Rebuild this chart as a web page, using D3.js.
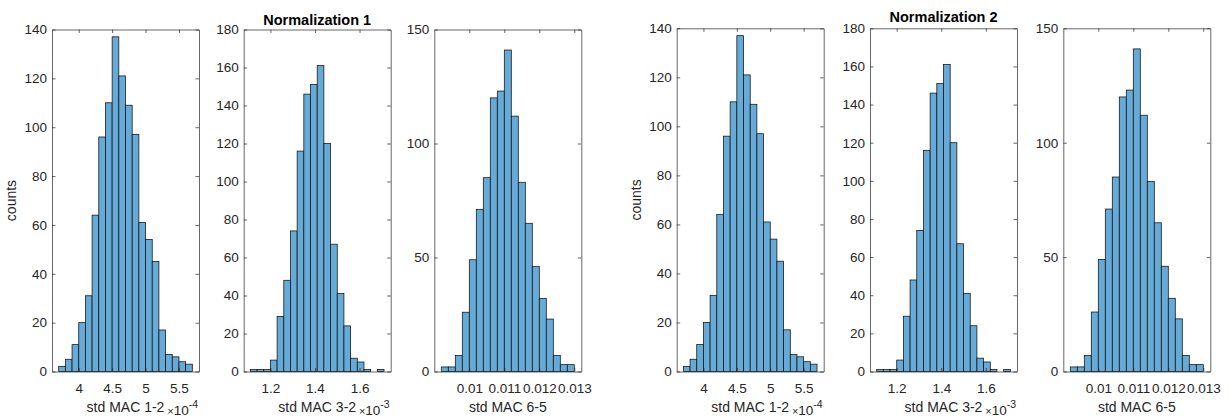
<!DOCTYPE html>
<html>
<head>
<meta charset="utf-8">
<script src="https://cdn.jsdelivr.net/npm/d3@7"></script>
<style>
  html, body { margin: 0; padding: 0; background: #fff; }
  svg { display: block; }
</style>
</head>
<body>
<svg id="chart" width="1229" height="417"></svg>
<script>
// ---------------- DATA ----------------
// Histogram counts (same data in both normalizations)
const counts12 = [2, 5, 11, 20, 31, 64, 96, 110, 137, 121, 109, 97, 61, 54, 45, 17, 7, 6, 4, 3];
const counts32 = [1, 1, 1, 6, 29, 48, 74, 116, 146, 151, 161, 120, 67, 41, 24, 7, 5, 1, 0, 1];
const counts65 = [2, 2, 7, 26, 49, 71, 85, 120, 123, 141, 112, 83, 65, 46, 32, 23, 7, 3, 3];

// Bin edges (MAC 1-2 in units of 1e-4, MAC 3-2 in units of 1e-3)
const edges12 = [3.7, 3.8, 3.9, 4.0, 4.1, 4.2, 4.3, 4.4, 4.5, 4.6, 4.7, 4.8, 4.9, 5.0, 5.1, 5.2, 5.3, 5.4, 5.5, 5.6, 5.7];
const edges32 = [1.11, 1.14, 1.17, 1.20, 1.23, 1.26, 1.29, 1.32, 1.35, 1.38, 1.41, 1.44, 1.47, 1.50, 1.53, 1.56, 1.59, 1.62, 1.65, 1.68, 1.71];
const edges65 = [0.0092, 0.0094, 0.0096, 0.0098, 0.0100, 0.0102, 0.0104, 0.0106, 0.0108, 0.0110, 0.0112, 0.0114, 0.0116, 0.0118, 0.0120, 0.0122, 0.0124, 0.0126, 0.0128, 0.0130];

// Axis limits
const xLim12 = [3.6, 5.8];
const xLim32 = [1.08, 1.74];
const xLim65 = [0.009, 0.0132];
const yMax12 = 140;
const yMax32 = 180;
const yMax65 = 150;

// Tick values and labels
const xTicks12 = [4, 4.5, 5, 5.5];
const xTickLabels12 = ["4", "4.5", "5", "5.5"];
const xTicks32 = [1.2, 1.4, 1.6];
const xTickLabels32 = ["1.2", "1.4", "1.6"];
const xTicks65 = [0.010, 0.011, 0.012, 0.013];
const xTickLabels65 = ["0.01", "0.011", "0.012", "0.013"];
const yTicks12 = [0, 20, 40, 60, 80, 100, 120, 140];
const yTicks32 = [0, 20, 40, 60, 80, 100, 120, 140, 160, 180];
const yTicks65 = [0, 50, 100, 150];

// Text
const xLabels = ["std MAC 1-2", "std MAC 3-2", "std MAC 6-5"];
const exponents = ["-4", "-3", null];
const titles = ["Normalization 1", "Normalization 2"];
const yLabel = "counts";

// ---------------- LAYOUT ----------------
const FONT = "'Liberation Sans', Arial, Helvetica, sans-serif";
const INK = "#262626";
const BAR_FILL = "#66aad7";
const PANEL_W = 147;
const BOTTOM = 371.5;
const TICK = 3.5;
const TICK_FONT = 13.5;

const groups = [
  { lefts: [52, 243.7, 434.3], top: 29.5, title: titles[0], titleY: 24.5, ylabX: 15.5 },
  { lefts: [676.7, 870, 1063.3], top: 28.3, title: titles[1], titleY: 21.5, ylabX: 640.5 }
];

const kinds = [
  { counts: counts12, edges: edges12, xLim: xLim12, yMax: yMax12, xTicks: xTicks12, xTickLabels: xTickLabels12, yTicks: yTicks12 },
  { counts: counts32, edges: edges32, xLim: xLim32, yMax: yMax32, xTicks: xTicks32, xTickLabels: xTickLabels32, yTicks: yTicks32 },
  { counts: counts65, edges: edges65, xLim: xLim65, yMax: yMax65, xTicks: xTicks65, xTickLabels: xTickLabels65, yTicks: yTicks65 }
];

const svg = d3.select("#chart");

function styleAxis(sel) {
  sel.select(".domain").attr("stroke", INK).attr("stroke-width", 0.7);
  sel.selectAll(".tick line").attr("stroke", INK).attr("stroke-width", 0.7);
  sel.selectAll(".tick text").attr("fill", INK).attr("font-size", TICK_FONT).attr("font-family", FONT);
  sel.attr("font-family", FONT);
}

groups.forEach((grp) => {
  kinds.forEach((k, pi) => {
    const left = grp.lefts[pi];
    const right = left + PANEL_W;
    const x = d3.scaleLinear().domain(k.xLim).range([left, right]);
    const y = d3.scaleLinear().domain([0, k.yMax]).range([BOTTOM, grp.top]);
    const g = svg.append("g");

    // bars
    g.append("g").selectAll("rect")
      .data(k.counts)
      .join("rect")
      .attr("x", (d, i) => x(k.edges[i]))
      .attr("width", (d, i) => x(k.edges[i + 1]) - x(k.edges[i]))
      .attr("y", d => y(d))
      .attr("height", d => y(0) - y(d))
      .attr("fill", BAR_FILL)
      .attr("stroke", d => d > 0 ? "#111" : "none")
      .attr("stroke-width", 0.75);

    // axes (ticks pointing inward, mirrored box)
    g.append("g").attr("transform", `translate(0,${BOTTOM})`)
      .call(d3.axisBottom(x).tickValues(k.xTicks).tickFormat((d, i) => k.xTickLabels[i])
        .tickSize(-TICK).tickSizeOuter(0).tickPadding(11.5))
      .call(styleAxis);
    g.append("g").attr("transform", `translate(0,${grp.top})`)
      .call(d3.axisTop(x).tickValues(k.xTicks).tickFormat("")
        .tickSize(-TICK).tickSizeOuter(0))
      .call(styleAxis);
    g.append("g").attr("transform", `translate(${left},0)`)
      .call(d3.axisLeft(y).tickValues(k.yTicks).tickFormat(d3.format("d"))
        .tickSize(-TICK).tickSizeOuter(0).tickPadding(5))
      .call(styleAxis);
    g.append("g").attr("transform", `translate(${right},0)`)
      .call(d3.axisRight(y).tickValues(k.yTicks).tickFormat("")
        .tickSize(-TICK).tickSizeOuter(0))
      .call(styleAxis);

    // x label
    g.append("text")
      .attr("x", (left + right) / 2)
      .attr("y", 411.5)
      .attr("text-anchor", "middle")
      .attr("font-family", FONT)
      .attr("font-size", 14)
      .attr("fill", INK)
      .text(xLabels[pi]);

    // exponent
    if (exponents[pi]) {
      const t = g.append("text")
        .attr("x", right - 1)
        .attr("y", 414.5)
        .attr("text-anchor", "end")
        .attr("font-family", FONT)
        .attr("fill", INK);
      t.append("tspan").attr("font-size", 11).text("\u00d7");
      t.append("tspan").attr("font-size", 13.5).text("10");
      t.append("tspan").attr("font-size", 10.5).attr("dy", -7).text(exponents[pi]);
    }

    // y label on first panel
    if (pi === 0) {
      g.append("text")
        .attr("transform", `translate(${grp.ylabX},${(grp.top + BOTTOM) / 2}) rotate(-90)`)
        .attr("text-anchor", "middle")
        .attr("font-family", FONT)
        .attr("font-size", 14)
        .attr("fill", INK)
        .text(yLabel);
    }

    // title on middle panel
    if (pi === 1) {
      g.append("text")
        .attr("x", (left + right) / 2)
        .attr("y", grp.titleY)
        .attr("text-anchor", "middle")
        .attr("font-family", FONT)
        .attr("font-size", 14.5)
        .attr("font-weight", "bold")
        .attr("fill", "#000")
        .text(grp.title);
    }
  });
});
</script>
</body>
</html>
